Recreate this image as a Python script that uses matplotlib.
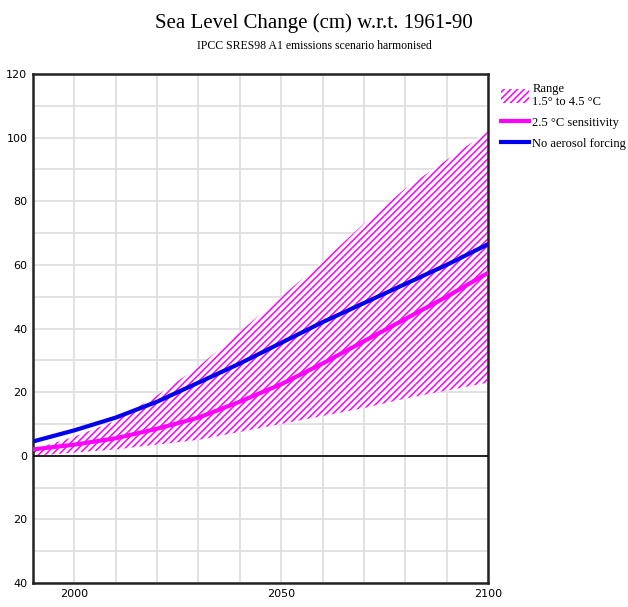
import matplotlib
matplotlib.use("Agg")
import matplotlib.pyplot as plt
from matplotlib.patches import Patch
from matplotlib.lines import Line2D
from matplotlib.ticker import FuncFormatter, MultipleLocator, FixedLocator

years = [1990, 2000, 2010, 2020, 2030, 2040, 2050, 2060, 2070, 2080, 2090, 2100]
range_upper = [2, 6, 11, 19, 28, 39, 50, 61, 73, 84, 93, 102]
range_lower = [0, 1, 2, 3.5, 5, 7.5, 10, 12.5, 15, 18, 20.5, 23]
sens_25 = [2, 3.5, 5.5, 8.5, 12, 17, 22.5, 29, 36, 43, 50, 57.5]
no_aerosol = [4.5, 8, 12, 17, 23, 29, 35.5, 42, 48, 54, 60, 66.5]

title = "Sea Level Change (cm) w.r.t. 1961-90"
subtitle = "IPCC SRES98 A1 emissions scenario harmonised"
legend_labels = ["Range\n1.5° to 4.5 °C", "2.5 °C sensitivity", "No aerosol forcing"]

plt.rcParams['hatch.linewidth'] = 1.1
plt.rcParams['hatch.color'] = '#ff00ff'

fig = plt.figure(figsize=(6.28, 6.07), dpi=100)
ax = fig.add_axes([0.0525, 0.0395, 0.7245, 0.8385])

ax.fill_between(years, range_lower, range_upper, facecolor='white',
                edgecolor='#ff00ff', hatch='/////', linewidth=0, zorder=2)
ax.plot(years, sens_25, color='#ff00ff', lw=3, zorder=3)
ax.plot(years, no_aerosol, color='#0000ee', lw=3, zorder=4)
ax.axhline(0, color='black', lw=1.2, zorder=5)

ax.set_xlim(1990, 2100)
ax.set_ylim(-40, 120)
ax.xaxis.set_major_locator(FixedLocator([2000, 2050, 2100]))
ax.xaxis.set_minor_locator(MultipleLocator(10))
ax.yaxis.set_major_locator(MultipleLocator(20))
ax.yaxis.set_minor_locator(MultipleLocator(10))
ax.yaxis.set_major_formatter(FuncFormatter(lambda v, p: f"{abs(int(v))}"))
ax.grid(True, which='both', color='#dddddd', lw=1.2, zorder=0)
ax.set_axisbelow(True)
ax.tick_params(which='both', length=0, labelsize=8, pad=4)
for s in ax.spines.values():
    s.set_linewidth(1.8)
    s.set_color('#222222')

fig.text(0.5, 0.962, title, ha='center', va='center', family='Liberation Serif', fontsize=15)
fig.text(0.5, 0.924, subtitle, ha='center', va='center', family='Liberation Serif', fontsize=8.5)

handles = [Patch(facecolor='white', edgecolor='#ff00ff', hatch='/////', linewidth=0),
           Line2D([], [], color='#ff00ff', lw=3),
           Line2D([], [], color='#0000ee', lw=3)]
fig.legend(handles, legend_labels, loc='upper left', bbox_to_anchor=(0.790, 0.872),
           frameon=False, prop={'family': 'Liberation Serif', 'size': 9},
           handlelength=2.2, handleheight=1.3, handletextpad=0.3, labelspacing=0.55,
           borderaxespad=0)

fig.savefig("out.png", dpi=100)
